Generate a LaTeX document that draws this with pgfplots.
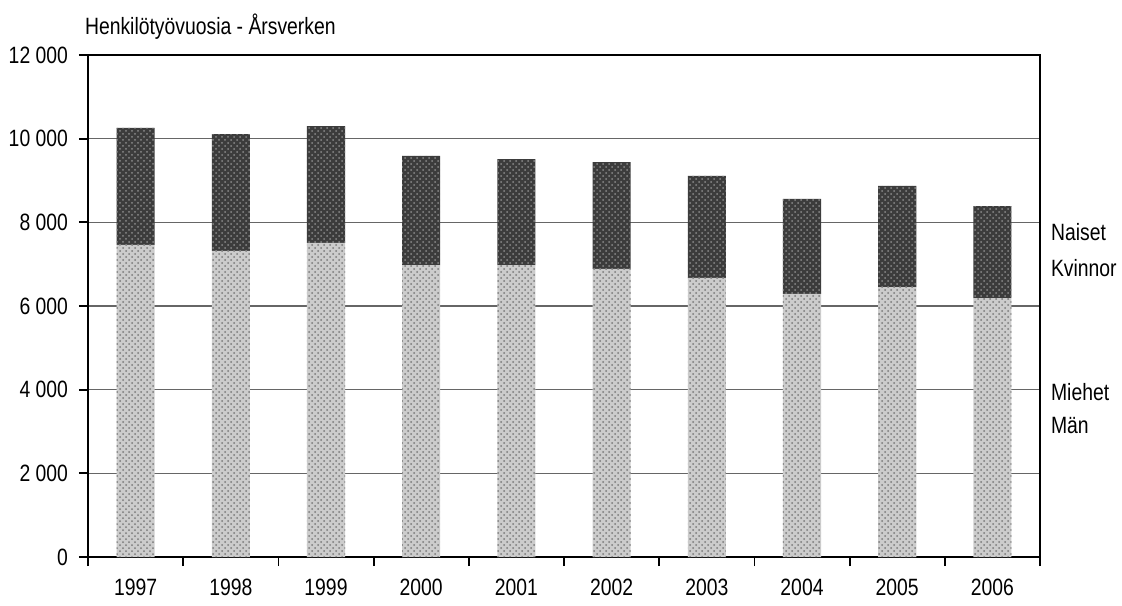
\documentclass[border=0pt]{standalone}
\usepackage{pgfplots}
\pgfplotsset{compat=1.18}
\usetikzlibrary{patterns}
\usepackage{fontspec}
\setmainfont{Liberation Sans}[FakeStretch=0.82]
\pgfplotstableread{
x men women
0 7460 2800
1 7320 2790
2 7510 2790
3 6980 2610
4 6980 2530
5 6890 2550
6 6670 2440
7 6290 2270
8 6450 2420
9 6190 2200
}\datatable
\definecolor{menfill}{HTML}{CCCCCC}
\definecolor{mendots}{HTML}{7A7A7A}
\definecolor{womenfill}{HTML}{3C3C3C}
\definecolor{womendots}{HTML}{8A8A8A}
\begin{document}
\begin{tikzpicture}[every node/.style={font=\fontsize{11.8}{14}\selectfont}]
\useasboundingbox (0,0) rectangle (561pt,302.5pt);
\begin{axis}[
  at={(44pt,24pt)}, anchor=south west,
  scale only axis, width=476pt, height=251pt,
  ybar stacked, bar width=0.4,
  xmin=-0.5, xmax=9.5, ymin=0, ymax=12000,
  xtick={0,...,9},
  xticklabels={1997,1998,1999,2000,2001,2002,2003,2004,2005,2006},
  major x tick style={draw=none},
  minor xtick={-0.5,0.5,...,9.5},
  xtick pos=bottom, ytick pos=left,
  ytick={0,2000,...,12000},
  ymajorgrids, grid style={gray!80!black, line width=0.6pt},
  tick align=outside, tick style={black, line width=0.9pt},
  major tick length=4.5pt, minor tick length=4.5pt,
  axis line style={line width=0.9pt},
  scaled y ticks=false,
  /pgf/number format/1000 sep={\ },
  /pgf/number format/assume math mode=true,
  ticklabel style={font=\fontsize{11.8}{14}\selectfont},
  xticklabel style={yshift=-3pt},
  yticklabel style={xshift=-2pt},
]
\addplot[fill=menfill, draw=none, postaction={pattern=crosshatch dots, pattern color=mendots}] table[x=x, y=men] {\datatable};
\addplot[fill=womenfill, draw=none, postaction={pattern=crosshatch dots, pattern color=womendots}] table[x=x, y=women] {\datatable};
\end{axis}
\node[anchor=west] at (39pt,289pt) {Henkilötyövuosia - Årsverken};
\node[anchor=west] at (522pt,186.5pt) {Naiset};
\node[anchor=west] at (522pt,168.5pt) {Kvinnor};
\node[anchor=west] at (522pt,106.5pt) {Miehet};
\node[anchor=west] at (522pt,90pt) {Män};
\end{tikzpicture}
\end{document}
